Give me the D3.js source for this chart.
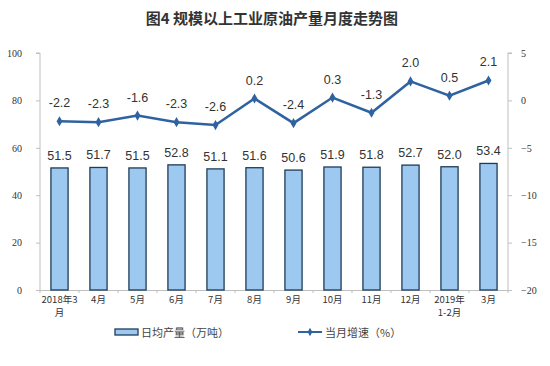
<!DOCTYPE html>
<html><head><meta charset="utf-8">
<script src="https://cdn.jsdelivr.net/npm/d3@7"></script>
<style>body{margin:0;background:#fff;}svg{display:block;}</style>
</head><body>
<svg id="c" width="550" height="366"></svg>
<script>
const categories = [["2018年3","月"],["4月"],["5月"],["6月"],["7月"],["8月"],["9月"],["10月"],["11月"],["12月"],["2019年","1-2月"],["3月"]];
const output = [51.5,51.7,51.5,52.8,51.1,51.6,50.6,51.9,51.8,52.7,52.0,53.4];
const growth = [-2.2,-2.3,-1.6,-2.3,-2.6,0.2,-2.4,0.3,-1.3,2.0,0.5,2.1];
const leftTicks = [0,20,40,60,80,100];
const rightTicks = [-20,-15,-10,-5,0,5];
const title = "图4  规模以上工业原油产量月度走势图";
const legendBar = "日均产量（万吨）";
const legendLine = "当月增速（%）";

const svg = d3.select("#c");
const L = 40, R = 508, T = 53, B = 290;
const idx = d3.range(categories.length);
const x = d3.scaleBand().domain(idx).range([L, R]).paddingInner(0.56).paddingOuter(0.28);
const yL = d3.scaleLinear().domain([0,100]).range([B,T]);
const yR = d3.scaleLinear().domain([-20,5]).range([B,T]);
const axisColor = "#bfbfbf";
const tickFont = "'Liberation Serif','DejaVu Serif',serif";

svg.append("text").attr("x",272).attr("y",24).attr("text-anchor","middle")
  .attr("font-family","'Noto Sans CJK SC',sans-serif").attr("font-weight","bold")
  .attr("font-size",15).attr("fill","#333").text(title);

// left axis
const gl = svg.append("g").attr("transform",`translate(${L},0)`)
  .call(d3.axisLeft(yL).tickValues(leftTicks).tickSize(4).tickPadding(14));
gl.select(".domain").attr("stroke",axisColor).attr("d",`M-4,${T}H0V${B}`);
gl.selectAll(".tick line").attr("stroke",axisColor);
gl.selectAll(".tick text").attr("font-family",tickFont).attr("font-size",10).attr("fill","#333");

// right axis
const gr = svg.append("g").attr("transform",`translate(${R},0)`)
  .call(d3.axisRight(yR).tickValues(rightTicks).tickSize(4).tickPadding(9));
gr.select(".domain").attr("stroke",axisColor).attr("d",`M4,${T}H0V${B}`);
gr.selectAll(".tick line").attr("stroke",axisColor);
gr.selectAll(".tick text").attr("font-family",tickFont).attr("font-size",10).attr("fill","#333");

// bottom axis
svg.append("line").attr("x1",L).attr("x2",R).attr("y1",B+0.5).attr("y2",B+0.5).attr("stroke",axisColor);
svg.selectAll(".bt").data(d3.range(categories.length+1)).join("line")
  .attr("x1",d=>L+d*(R-L)/categories.length).attr("x2",d=>L+d*(R-L)/categories.length)
  .attr("y1",B).attr("y2",B+3).attr("stroke",axisColor);

const xl = svg.selectAll(".xl").data(idx).join("text")
  .attr("x",d=>x(d)+x.bandwidth()/2).attr("y",303).attr("text-anchor","middle")
  .attr("font-family","'Noto Sans CJK SC',sans-serif").attr("font-size",9.5).attr("fill","#333");
xl.each(function(d){
  const t = d3.select(this);
  categories[d].forEach((s,i)=>t.append("tspan").attr("x",x(d)+x.bandwidth()/2).attr("dy",i?13:0).text(s));
});

// bars
svg.selectAll(".bar").data(idx).join("rect")
  .attr("x",d=>x(d)).attr("width",x.bandwidth())
  .attr("y",d=>yL(output[d])).attr("height",d=>B-yL(output[d]))
  .attr("fill","#9dc8f0").attr("stroke","#1f3b57").attr("stroke-width",1.3);
svg.selectAll(".bl").data(idx).join("text")
  .attr("x",d=>x(d)+x.bandwidth()/2).attr("y",d=>yL(output[d])-8).attr("text-anchor","middle")
  .attr("font-family","'Liberation Sans',Arial,sans-serif").attr("font-size",12.5).attr("fill","#333")
  .text(d=>output[d].toFixed(1));

// line
const cx = d=>x(d)+x.bandwidth()/2;
const lineColor = "#2f62a0";
svg.append("path").datum(idx)
  .attr("d",d3.line().x(cx).y(d=>yR(growth[d])))
  .attr("fill","none").attr("stroke",lineColor).attr("stroke-width",2.5);
svg.selectAll(".pt").data(idx).join("path")
  .attr("transform",d=>`translate(${cx(d)},${yR(growth[d])})`)
  .attr("d",d3.symbol(d3.symbolDiamond,30)).attr("fill",lineColor);
svg.selectAll(".gl").data(idx).join("text")
  .attr("x",cx).attr("y",d=>yR(growth[d])-14).attr("text-anchor","middle")
  .attr("font-family","'Liberation Sans',Arial,sans-serif").attr("font-size",12.5).attr("fill","#333")
  .text(d=>growth[d].toFixed(1));

// legend
svg.append("rect").attr("x",115).attr("y",329).attr("width",23).attr("height",6)
  .attr("fill","#9dc8f0").attr("stroke","#1f3b57").attr("stroke-width",1.3);
svg.append("text").attr("x",141).attr("y",337).attr("font-family","'Noto Sans CJK SC',sans-serif")
  .attr("font-size",11).attr("fill","#444").text(legendBar);
svg.append("line").attr("x1",298).attr("x2",322).attr("y1",332).attr("y2",332).attr("stroke",lineColor).attr("stroke-width",2);
svg.append("path").attr("transform","translate(310,332)").attr("d",d3.symbol(d3.symbolDiamond,20)).attr("fill",lineColor);
svg.append("text").attr("x",325).attr("y",337).attr("font-family","'Noto Sans CJK SC',sans-serif")
  .attr("font-size",11).attr("fill","#444").text(legendLine);
</script>
</body></html>
